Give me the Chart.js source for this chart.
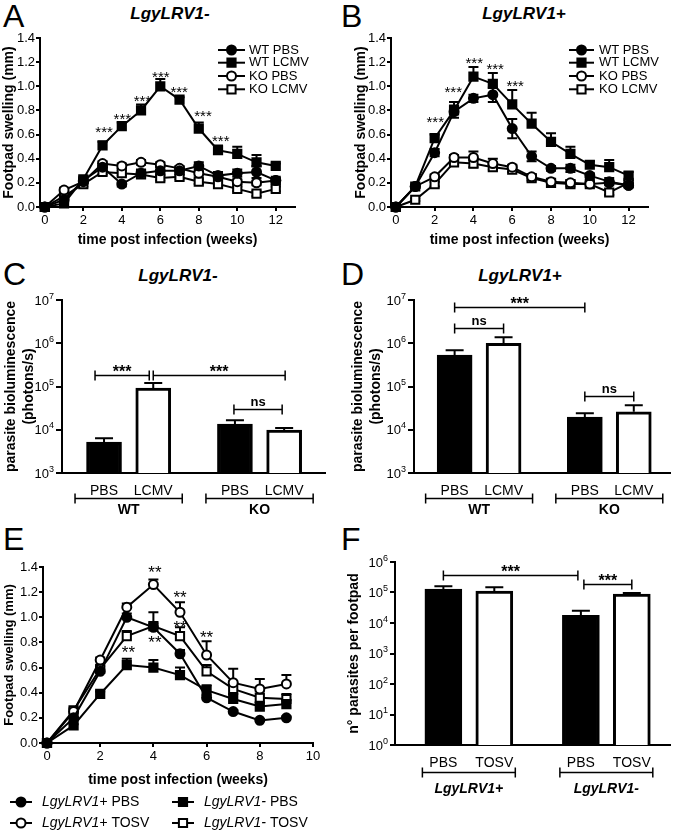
<!DOCTYPE html>
<html>
<head>
<meta charset="utf-8">
<title>LgyLRV1 footpad swelling and parasite burden</title>
<script src="https://cdn.jsdelivr.net/npm/chart.js@4.4.0/dist/chart.umd.min.js"></script>
<style>
  html, body { margin: 0; padding: 0; background: #fff; }
  body {
    position: relative; width: 677px; height: 832px; overflow: hidden;
    font-family: "Liberation Sans", Arial, Helvetica, sans-serif; color: #000;
  }
  canvas { position: absolute; }
  .letter { position: absolute; font-size: 32px; line-height: 32px; }
  .head {
    position: absolute; font-size: 17px; line-height: 17px; font-weight: bold;
    font-style: italic; transform: translateX(-50%); white-space: nowrap;
  }
</style>
</head>
<body>
<div class="letter" style="left:3px;top:0px">A</div>
<div class="head" style="left:170px;top:5px">LgyLRV1-</div>
<div class="letter" style="left:341px;top:0px">B</div>
<div class="head" style="left:524px;top:5px">LgyLRV1+</div>
<div class="letter" style="left:3px;top:258px">C</div>
<div class="head" style="left:178px;top:267px">LgyLRV1-</div>
<div class="letter" style="left:341px;top:258px">D</div>
<div class="head" style="left:520px;top:267px">LgyLRV1+</div>
<div class="letter" style="left:3px;top:523px">E</div>
<div class="letter" style="left:341px;top:523px">F</div>

<canvas id="chartA"></canvas>
<canvas id="chartB"></canvas>
<canvas id="chartC"></canvas>
<canvas id="chartD"></canvas>
<canvas id="chartE"></canvas>
<canvas id="chartF"></canvas>

<script>
// ---------- data ----------
const weeksAB = [0, 1, 2, 3, 4, 5, 6, 7, 8, 9, 10, 11, 12];
const weekTicksAB = [0, 2, 4, 6, 8, 10, 12];
const weeksE = [0, 1, 2, 3, 4, 5, 6, 7, 8, 9];
const weekTicksE = [0, 2, 4, 6, 8, 10];
const swellTicks = [0, 0.2, 0.4, 0.6, 0.8, 1.0, 1.2, 1.4];
const lcmvLegend = ["WT PBS", "WT LCMV", "KO PBS", "KO LCMV"];

// A: LgyLRV1-
const swellA_wtPbs  = [0, 0.06, 0.22, 0.33, 0.19, 0.28, 0.30, 0.30, 0.34, 0.26, 0.28, 0.29, 0.22];
const swellA_wtLcmv = [0, 0.03, 0.23, 0.51, 0.67, 0.80, 1.00, 0.89, 0.65, 0.47, 0.44, 0.37, 0.34];
const swellA_koPbs  = [0, 0.14, 0.21, 0.36, 0.34, 0.37, 0.35, 0.32, 0.28, 0.25, 0.21, 0.20, 0.22];
const swellA_koLcmv = [0, 0.09, 0.19, 0.29, 0.28, 0.27, 0.24, 0.25, 0.21, 0.19, 0.15, 0.11, 0.15];
const semA_wtPbs    = [0, 0.02, 0.02, 0.03, 0.02, 0.03, 0.03, 0.03, 0.03, 0.03, 0.03, 0.05, 0.03];
const semA_wtLcmv   = [0, 0.01, 0.02, 0.03, 0.03, 0.05, 0.06, 0.02, 0.05, 0.04, 0.06, 0.06, 0.02];
const semA_koPbs    = [0, 0.02, 0.02, 0.02, 0.02, 0.02, 0.02, 0.02, 0.02, 0.02, 0.02, 0.02, 0.02];
const semA_koLcmv   = [0, 0.01, 0.02, 0.02, 0.02, 0.02, 0.02, 0.02, 0.02, 0.02, 0.02, 0.02, 0.02];
const starsA_week = [3.08, 4.03, 5.07, 6.03, 6.98, 8.22, 9.14];
const starsA_mm   = [0.65, 0.76, 0.91, 1.11, 0.98, 0.78, 0.58];

// B: LgyLRV1+
const swellB_wtPbs  = [0, 0.17, 0.45, 0.79, 0.90, 0.93, 0.65, 0.42, 0.32, 0.32, 0.26, 0.21, 0.18];
const swellB_wtLcmv = [0, 0.17, 0.57, 0.80, 1.08, 1.02, 0.85, 0.69, 0.54, 0.44, 0.35, 0.33, 0.26];
const swellB_koPbs  = [0, 0.17, 0.25, 0.41, 0.41, 0.36, 0.33, 0.25, 0.21, 0.20, 0.19, 0.20, 0.18];
const swellB_koLcmv = [0, 0.06, 0.19, 0.37, 0.36, 0.33, 0.31, 0.24, 0.20, 0.19, 0.19, 0.12, 0.20];
const semB_wtPbs    = [0, 0.01, 0.03, 0.05, 0.03, 0.06, 0.08, 0.04, 0.02, 0.03, 0.02, 0.03, 0.02];
const semB_wtLcmv   = [0, 0.01, 0.03, 0.07, 0.08, 0.09, 0.12, 0.09, 0.07, 0.06, 0.03, 0.06, 0.03];
const semB_koPbs    = [0, 0.01, 0.02, 0.02, 0.05, 0.04, 0.02, 0.02, 0.02, 0.02, 0.02, 0.02, 0.02];
const semB_koLcmv   = [0, 0.01, 0.02, 0.02, 0.03, 0.02, 0.02, 0.02, 0.02, 0.02, 0.02, 0.02, 0.02];
const starsB_week = [2.03, 2.96, 4.04, 5.12, 6.15];
const starsB_mm   = [0.73, 0.98, 1.22, 1.17, 1.03];

// C / D: bioluminescence (photons/s)
const barCatsCD = ["PBS", "LCMV", "PBS", "LCMV"];
const barGroupsCD = ["WT", "KO"];
const lumC     = [5.2e3, 9.2e4, 1.35e4, 9.8e3];
const lumC_sem = [1.2e3, 2.8e4, 3.1e3, 1.2e3];
const lumD     = [5.3e5, 1.0e6, 1.96e4, 2.6e4];
const lumD_sem = [1.6e5, 3.7e5, 4.4e3, 1.1e4];
const logTicksCD = [1e3, 1e4, 1e5, 1e6, 1e7];

// E: TOSV co-infection
const tosvLegend = ["LgyLRV1+ PBS", "LgyLRV1+ TOSV", "LgyLRV1- PBS", "LgyLRV1- TOSV"];
const swellE_posPbs  = [0, 0.20, 0.57, 1.00, 0.92, 0.71, 0.36, 0.25, 0.18, 0.20];
const swellE_posTosv = [0, 0.25, 0.66, 1.08, 1.26, 1.04, 0.70, 0.48, 0.43, 0.47];
const swellE_negPbs  = [0, 0.14, 0.39, 0.62, 0.60, 0.54, 0.42, 0.35, 0.29, 0.31];
const swellE_negTosv = [0, 0.26, 0.59, 0.85, 0.93, 0.85, 0.57, 0.43, 0.36, 0.35];
const semE_posPbs    = [0, 0.01, 0.02, 0.03, 0.03, 0.03, 0.02, 0.01, 0.01, 0.01];
const semE_posTosv   = [0, 0.02, 0.02, 0.03, 0.04, 0.08, 0.11, 0.11, 0.08, 0.07];
const semE_negPbs    = [0, 0.01, 0.02, 0.05, 0.06, 0.06, 0.04, 0.04, 0.03, 0.03];
const semE_negTosv   = [0, 0.02, 0.02, 0.04, 0.11, 0.07, 0.05, 0.05, 0.05, 0.04];
const starsE_week = [4.06, 5.0, 6.0, 5.0, 4.06, 3.06];
const starsE_mm   = [1.39, 1.19, 0.87, 0.95, 0.83, 0.75];

// F: parasites per footpad
const barCatsF = ["PBS", "TOSV", "PBS", "TOSV"];
const barGroupsF = ["LgyLRV1+", "LgyLRV1-"];
const parasF     = [1.3e5, 1.12e5, 1.8e4, 8.9e4];
const parasF_sem = [3.0e4, 3.8e4, 7e3, 7e3];
const logTicksF = [1, 1e1, 1e2, 1e3, 1e4, 1e5, 1e6];

// ---------- helpers ----------
const FONT = "'Liberation Sans', Arial, Helvetica, sans-serif";
Chart.defaults.font.family = FONT;
Chart.defaults.color = "#000";

const markers = {
  filledCircle: { pointStyle: "circle", pointRadius: 4.5, fill: "#000" },
  filledSquare: { pointStyle: "rect", pointRadius: 5.8, fill: "#000" },
  openCircle:   { pointStyle: "circle", pointRadius: 4.5, fill: "#fff" },
  openSquare:   { pointStyle: "rect", pointRadius: 5.8, fill: "#fff" },
};

function place(id, c) {
  const cv = document.getElementById(id);
  cv.width = c.w;
  cv.height = c.h;
  cv.style.left = c.l + "px";
  cv.style.top = c.t + "px";
  cv.style.width = c.w + "px";
  cv.style.height = c.h + "px";
  return cv;
}

function lineDataset(label, xs, ys, kind) {
  const m = markers[kind];
  return {
    label: label,
    data: xs.map((x, i) => ({ x: x, y: ys[i] })),
    borderColor: "#000",
    borderWidth: 2,
    tension: 0,
    fill: false,
    pointStyle: m.pointStyle,
    pointRadius: m.pointRadius,
    pointBackgroundColor: m.fill,
    pointBorderColor: "#000",
    pointBorderWidth: 2,
    clip: false,
  };
}

function axisStyle(tickLen, tickPad, size) {
  return {
    grid: { display: true, drawOnChartArea: false, drawTicks: true, tickLength: tickLen, color: "#000", lineWidth: 2 },
    border: { display: true, color: "#000", width: 2 },
    ticks: { color: "#000", font: { size: size }, padding: tickPad, autoSkip: false, maxRotation: 0 },
  };
}

function tick(list) {
  return function (scale) {
    scale.ticks = list.map((v) => ({ value: v }));
  };
}

function capLine(ctx, x1, x2, y, cap) {
  ctx.beginPath();
  ctx.moveTo(x1, y); ctx.lineTo(x2, y);
  ctx.moveTo(x1, y - cap); ctx.lineTo(x1, y + cap);
  ctx.moveTo(x2, y - cap); ctx.lineTo(x2, y + cap);
  ctx.stroke();
}

// error bars, stars, brackets, group labels, legend, 10^n tick labels
function prism(cfg) {
  return {
    id: "prism",
    beforeDatasetsDraw(chart) {
      if (!cfg.sem) return;
      const ctx = chart.ctx, ys = chart.scales.y;
      ctx.save();
      ctx.strokeStyle = "#000";
      ctx.lineWidth = 2;
      cfg.sem.forEach((sems, di) => {
        const meta = chart.getDatasetMeta(di);
        const ds = chart.data.datasets[di];
        const dir = cfg.errDir ? cfg.errDir[di] : "up";
        sems.forEach((s, j) => {
          if (!s) return;
          const v = ds.data[j].y, x = meta.data[j].x;
          const y0 = ys.getPixelForValue(v);
          ctx.beginPath();
          if (dir !== "down") {
            const yu = ys.getPixelForValue(v + s);
            ctx.moveTo(x, y0); ctx.lineTo(x, yu);
            ctx.moveTo(x - cfg.cap, yu); ctx.lineTo(x + cfg.cap, yu);
          }
          if (dir !== "up") {
            const yd = ys.getPixelForValue(v - s);
            ctx.moveTo(x, y0); ctx.lineTo(x, yd);
            ctx.moveTo(x - cfg.cap, yd); ctx.lineTo(x + cfg.cap, yd);
          }
          ctx.stroke();
        });
      });
      ctx.restore();
    },
    afterDatasetsDraw(chart) {
      const ctx = chart.ctx, xs = chart.scales.x, ys = chart.scales.y;
      ctx.save();
      ctx.fillStyle = "#000";
      ctx.strokeStyle = "#000";

      if (cfg.stars) {
        const sz = cfg.stars.size;
        ctx.font = sz + "px " + FONT;
        ctx.textAlign = "center";
        ctx.textBaseline = "alphabetic";
        cfg.stars.x.forEach((xv, i) => {
          ctx.fillText(cfg.stars.text, xs.getPixelForValue(xv), ys.getPixelForValue(cfg.stars.y[i]) + 0.57 * sz);
        });
      }

      if (cfg.powers) {
        const left = chart.chartArea.left - cfg.powers.inset;
        ys.ticks.forEach((t) => {
          const y = ys.getPixelForValue(t.value);
          const exp = String(Math.round(Math.log10(t.value)));
          ctx.textAlign = "right";
          ctx.textBaseline = "alphabetic";
          ctx.font = "9px " + FONT;
          const ew = ctx.measureText(exp).width;
          ctx.fillText(exp, left, y - 1.5);
          ctx.font = "13px " + FONT;
          ctx.fillText("10", left - ew, y + 4.7);
        });
      }

      if (cfg.brackets) {
        const meta = chart.getDatasetMeta(0);
        ctx.lineWidth = 1.5;
        ctx.textAlign = "center";
        ctx.textBaseline = "alphabetic";
        cfg.brackets.forEach((b) => {
          const x1 = meta.data[b.a].x + (b.da || 0);
          const x2 = meta.data[b.b].x + (b.db || 0);
          const y = Math.round(ys.getPixelForValue(b.y)) + 0.5;
          capLine(ctx, x1, x2, y, 5);
          const starry = b.text.indexOf("*") >= 0;
          ctx.font = starry ? "bold 16px " + FONT : "bold 13px " + FONT;
          ctx.fillText(b.text, (x1 + x2) / 2, starry ? y + 1 : y - 3.5);
        });
      }

      if (cfg.groups) {
        const g = cfg.groups, meta = chart.getDatasetMeta(0);
        const bottom = chart.chartArea.bottom;
        ctx.lineWidth = 1.5;
        ctx.font = g.font;
        ctx.textAlign = "center";
        ctx.textBaseline = "middle";
        g.members.forEach((m, k) => {
          const x1 = meta.data[m[0]].x - g.ext;
          const x2 = meta.data[m[m.length - 1]].x + g.ext;
          const y = Math.round(bottom + g.lineDy) + 0.5;
          capLine(ctx, x1, x2, y, 5);
          ctx.fillText(g.labels[k], (x1 + x2) / 2, y + g.textDy);
        });
      }

      if (cfg.legend) {
        const lg = cfg.legend;
        lg.items.forEach((it) => {
          const ds = chart.data.datasets[it.ds];
          ctx.lineWidth = 2;
          ctx.beginPath();
          ctx.moveTo(it.x, it.y); ctx.lineTo(it.x + lg.len, it.y);
          ctx.stroke();
          ctx.fillStyle = ds.pointBackgroundColor;
          Chart.helpers.drawPoint(ctx, { pointStyle: ds.pointStyle, radius: ds.pointRadius, borderWidth: 2, rotation: 0 }, it.x + lg.len / 2, it.y);
          ctx.fillStyle = "#000";
          ctx.textAlign = "left";
          ctx.textBaseline = "middle";
          let tx = it.x + lg.len + lg.gap;
          const label = ds.label;
          if (lg.italicFirst) {
            const cut = label.indexOf(" ");
            const first = label.slice(0, cut), rest = label.slice(cut);
            ctx.font = "italic " + lg.size + "px " + FONT;
            ctx.fillText(first, tx, it.y);
            tx += ctx.measureText(first).width;
            ctx.font = lg.size + "px " + FONT;
            ctx.fillText(rest, tx, it.y);
          } else {
            ctx.font = lg.size + "px " + FONT;
            ctx.fillText(label, tx, it.y);
          }
        });
      }
      ctx.restore();
    },
  };
}

// line panel: canvas rect + plot rect in page pixels
function linePanel(p) {
  const c = p.canvas, a = p.plot;
  const yW = a.l - c.l, xH = c.t + c.h - a.b;
  const xAxis = axisStyle(4, 2, 13);
  const yAxis = axisStyle(4, 1, 13);
  yAxis.ticks.callback = (v) => Number(v).toFixed(1);
  return new Chart(place(p.id, c), {
    type: "line",
    data: { datasets: p.datasets },
    options: {
      responsive: false,
      animation: false,
      devicePixelRatio: 1,
      events: [],
      layout: { padding: { left: 0, top: a.t - c.t, right: c.l + c.w - a.r, bottom: 0 } },
      plugins: { legend: { display: false }, tooltip: { enabled: false } },
      scales: {
        x: Object.assign(xAxis, {
          type: "linear",
          min: p.xMin,
          max: p.xMax,
          afterBuildTicks: tick(p.xTicks),
          afterFit: (s) => { s.height = xH; },
          title: {
            display: true, text: "time post infection (weeks)", color: "#000",
            font: { size: 14, weight: "bold", lineHeight: 1.2 },
            padding: { top: 0, bottom: p.xTitlePad },
          },
        }),
        y: Object.assign(yAxis, {
          type: "linear",
          min: 0,
          max: 1.4,
          afterBuildTicks: tick(swellTicks),
          afterFit: (s) => { s.width = yW; },
          title: {
            display: true, text: "Footpad swelling (mm)", color: "#000",
            font: { size: p.yTitleSize, weight: "bold", lineHeight: 1.2 },
            padding: { top: p.yTitlePad, bottom: 0 },
          },
        }),
      },
    },
    plugins: [prism(p.extra)],
  });
}

// log-scale bar panel
function barPanel(p) {
  const c = p.canvas, a = p.plot;
  const yW = a.l - c.l, xH = c.t + c.h - a.b;
  const pos = p.cats.map((_, i) => i + (i >= 2 ? p.groupGap : 0));
  const yAxis = axisStyle(p.yTickLen, 2, 13);
  yAxis.ticks.callback = () => "";
  p.extra.powers = { inset: p.yTickLen + 2 };
  return new Chart(place(p.id, c), {
    type: "bar",
    data: {
      datasets: [{
        data: p.values.map((v, i) => ({ x: pos[i], y: v })),
        backgroundColor: ["#000", "#fff", "#000", "#fff"],
        borderColor: "#000",
        borderWidth: 3,
        borderSkipped: "bottom",
        barThickness: p.barW,
      }],
    },
    options: {
      responsive: false,
      animation: false,
      devicePixelRatio: 1,
      events: [],
      layout: { padding: { left: 0, top: a.t - c.t, right: c.l + c.w - a.r, bottom: 0 } },
      plugins: { legend: { display: false }, tooltip: { enabled: false } },
      scales: {
        x: {
          type: "linear",
          offset: false,
          min: p.xMin,
          max: p.xMax,
          grid: { display: false, offset: false },
          border: { display: true, color: "#000", width: 2 },
          afterBuildTicks: tick(pos),
          afterFit: (s) => { s.height = xH; },
          ticks: {
            color: "#000", font: { size: 14 }, padding: p.xTickPad, autoSkip: false, maxRotation: 0,
            callback: (v, i) => p.cats[i],
          },
        },
        y: Object.assign(yAxis, {
          type: "logarithmic",
          beginAtZero: false,
          min: p.yTicks[0],
          max: p.yTicks[p.yTicks.length - 1],
          afterBuildTicks: tick(p.yTicks),
          afterFit: (s) => { s.width = yW; },
          title: {
            display: true, text: p.yTitle, color: "#000",
            font: { size: 14, weight: "bold", lineHeight: 1.3 },
            padding: { top: p.yTitlePad, bottom: 0 },
          },
        }),
      },
    },
    plugins: [prism(p.extra)],
  });
}

// ---------- panel A ----------
linePanel({
  id: "chartA",
  canvas: { l: 0, t: 20, w: 320, h: 240 },
  plot: { l: 40, t: 38, r: 295, b: 207 },
  xMin: -0.25, xMax: 13, xTicks: weekTicksAB, xTitlePad: 11.6,
  yTitleSize: 14, yTitlePad: 0.6,
  datasets: [
    lineDataset(lcmvLegend[0], weeksAB, swellA_wtPbs, "filledCircle"),
    lineDataset(lcmvLegend[1], weeksAB, swellA_wtLcmv, "filledSquare"),
    lineDataset(lcmvLegend[2], weeksAB, swellA_koPbs, "openCircle"),
    lineDataset(lcmvLegend[3], weeksAB, swellA_koLcmv, "openSquare"),
  ],
  extra: {
    sem: [semA_wtPbs, semA_wtLcmv, semA_koPbs, semA_koLcmv],
    errDir: ["both", "up", "both", "both"], cap: 5,
    stars: { x: starsA_week, y: starsA_mm, text: "***", size: 15 },
    legend: {
      len: 27, gap: 4, size: 13,
      items: [{ ds: 0, x: 218, y: 30 }, { ds: 1, x: 218, y: 42.7 }, { ds: 2, x: 218, y: 56 }, { ds: 3, x: 218, y: 69.3 }],
    },
  },
});

// ---------- panel B ----------
linePanel({
  id: "chartB",
  canvas: { l: 337, t: 20, w: 340, h: 240 },
  plot: { l: 391, t: 38, r: 648, b: 207 },
  xMin: -0.25, xMax: 13, xTicks: weekTicksAB, xTitlePad: 11.6,
  yTitleSize: 14, yTitlePad: 15.6,
  datasets: [
    lineDataset(lcmvLegend[0], weeksAB, swellB_wtPbs, "filledCircle"),
    lineDataset(lcmvLegend[1], weeksAB, swellB_wtLcmv, "filledSquare"),
    lineDataset(lcmvLegend[2], weeksAB, swellB_koPbs, "openCircle"),
    lineDataset(lcmvLegend[3], weeksAB, swellB_koLcmv, "openSquare"),
  ],
  extra: {
    sem: [semB_wtPbs, semB_wtLcmv, semB_koPbs, semB_koLcmv],
    errDir: ["both", "up", "up", "both"], cap: 5,
    stars: { x: starsB_week, y: starsB_mm, text: "***", size: 15 },
    legend: {
      len: 25, gap: 5, size: 13,
      items: [{ ds: 0, x: 232, y: 30 }, { ds: 1, x: 232, y: 42.7 }, { ds: 2, x: 232, y: 56 }, { ds: 3, x: 232, y: 69.3 }],
    },
  },
});

// ---------- panel C ----------
barPanel({
  id: "chartC",
  canvas: { l: 0, t: 285, w: 337, h: 240 },
  plot: { l: 62, t: 300, r: 325, b: 473 },
  cats: barCatsCD, values: lumC, groupGap: 0.66, barW: 35,
  xMin: -0.854, xMax: 4.49, xTickPad: 2,
  yTicks: logTicksCD, yTickLen: 6,
  yTitle: ["parasite bioluminescence", "(photons/s)"], yTitlePad: 1.9,
  extra: {
    sem: [lumC_sem], errDir: ["up"], cap: 9,
    brackets: [
      { a: 0, b: 1, y: 1.87e5, text: "***", da: -9, db: -4 },
      { a: 1, b: 3, y: 1.87e5, text: "***", da: 0, db: 1 },
      { a: 2, b: 3, y: 3.0e4, text: "ns", da: -1, db: -2 },
    ],
    groups: { labels: barGroupsCD, members: [[0, 1], [2, 3]], ext: 29, lineDy: 25, textDy: 12, font: "bold 14px " + FONT },
  },
});

// ---------- panel D ----------
barPanel({
  id: "chartD",
  canvas: { l: 337, t: 285, w: 340, h: 240 },
  plot: { l: 414, t: 300, r: 670, b: 473 },
  cats: barCatsCD, values: lumD, groupGap: 0.66, barW: 35,
  xMin: -0.83, xMax: 4.40, xTickPad: 2,
  yTicks: logTicksCD, yTickLen: 6,
  yTitle: ["parasite bioluminescence", "(photons/s)"], yTitlePad: 11.9,
  extra: {
    sem: [lumD_sem], errDir: ["up"], cap: 9,
    brackets: [
      { a: 0, b: 2, y: 6.9e6, text: "***" },
      { a: 0, b: 1, y: 2.2e6, text: "ns" },
      { a: 2, b: 3, y: 6.0e4, text: "ns" },
    ],
    groups: { labels: barGroupsCD, members: [[0, 1], [2, 3]], ext: 29, lineDy: 25, textDy: 12, font: "bold 14px " + FONT },
  },
});

// ---------- panel E ----------
linePanel({
  id: "chartE",
  canvas: { l: 0, t: 555, w: 330, h: 277 },
  plot: { l: 43, t: 567, r: 313, b: 743 },
  xMin: -0.15, xMax: 10, xTicks: weekTicksE, xTitlePad: 43.6,
  yTitleSize: 13, yTitlePad: 1.2,
  datasets: [
    lineDataset(tosvLegend[0], weeksE, swellE_posPbs, "filledCircle"),
    lineDataset(tosvLegend[1], weeksE, swellE_posTosv, "openCircle"),
    lineDataset(tosvLegend[2], weeksE, swellE_negPbs, "filledSquare"),
    lineDataset(tosvLegend[3], weeksE, swellE_negTosv, "openSquare"),
  ],
  extra: {
    sem: [semE_posPbs, semE_posTosv, semE_negPbs, semE_negTosv],
    errDir: ["up", "up", "up", "up"], cap: 5,
    stars: { x: starsE_week, y: starsE_mm, text: "**", size: 17 },
    legend: {
      len: 22, gap: 10, size: 14, italicFirst: true,
      items: [{ ds: 0, x: 10, y: 247 }, { ds: 2, x: 172, y: 247 }, { ds: 1, x: 10, y: 268 }, { ds: 3, x: 172, y: 268 }],
    },
  },
});

// ---------- panel F ----------
barPanel({
  id: "chartF",
  canvas: { l: 337, t: 548, w: 340, h: 284 },
  plot: { l: 395, t: 562, r: 670, b: 745 },
  cats: barCatsF, values: parasF, groupGap: 0.7, barW: 37,
  xMin: -0.95, xMax: 4.45, xTickPad: 1.5,
  yTicks: logTicksF, yTickLen: 5,
  yTitle: "n\u00B0 parasites per footpad", yTitlePad: 7.6,
  extra: {
    sem: [parasF_sem], errDir: ["up"], cap: 9,
    brackets: [
      { a: 0, b: 2, y: 3.7e5, text: "***", db: -3 },
      { a: 2, b: 3, y: 1.9e5, text: "***", da: 3 },
    ],
    groups: { labels: barGroupsF, members: [[0, 1], [2, 3]], ext: 21, lineDy: 27, textDy: 17, font: "italic bold 14px " + FONT },
  },
});
</script>
</body>
</html>
